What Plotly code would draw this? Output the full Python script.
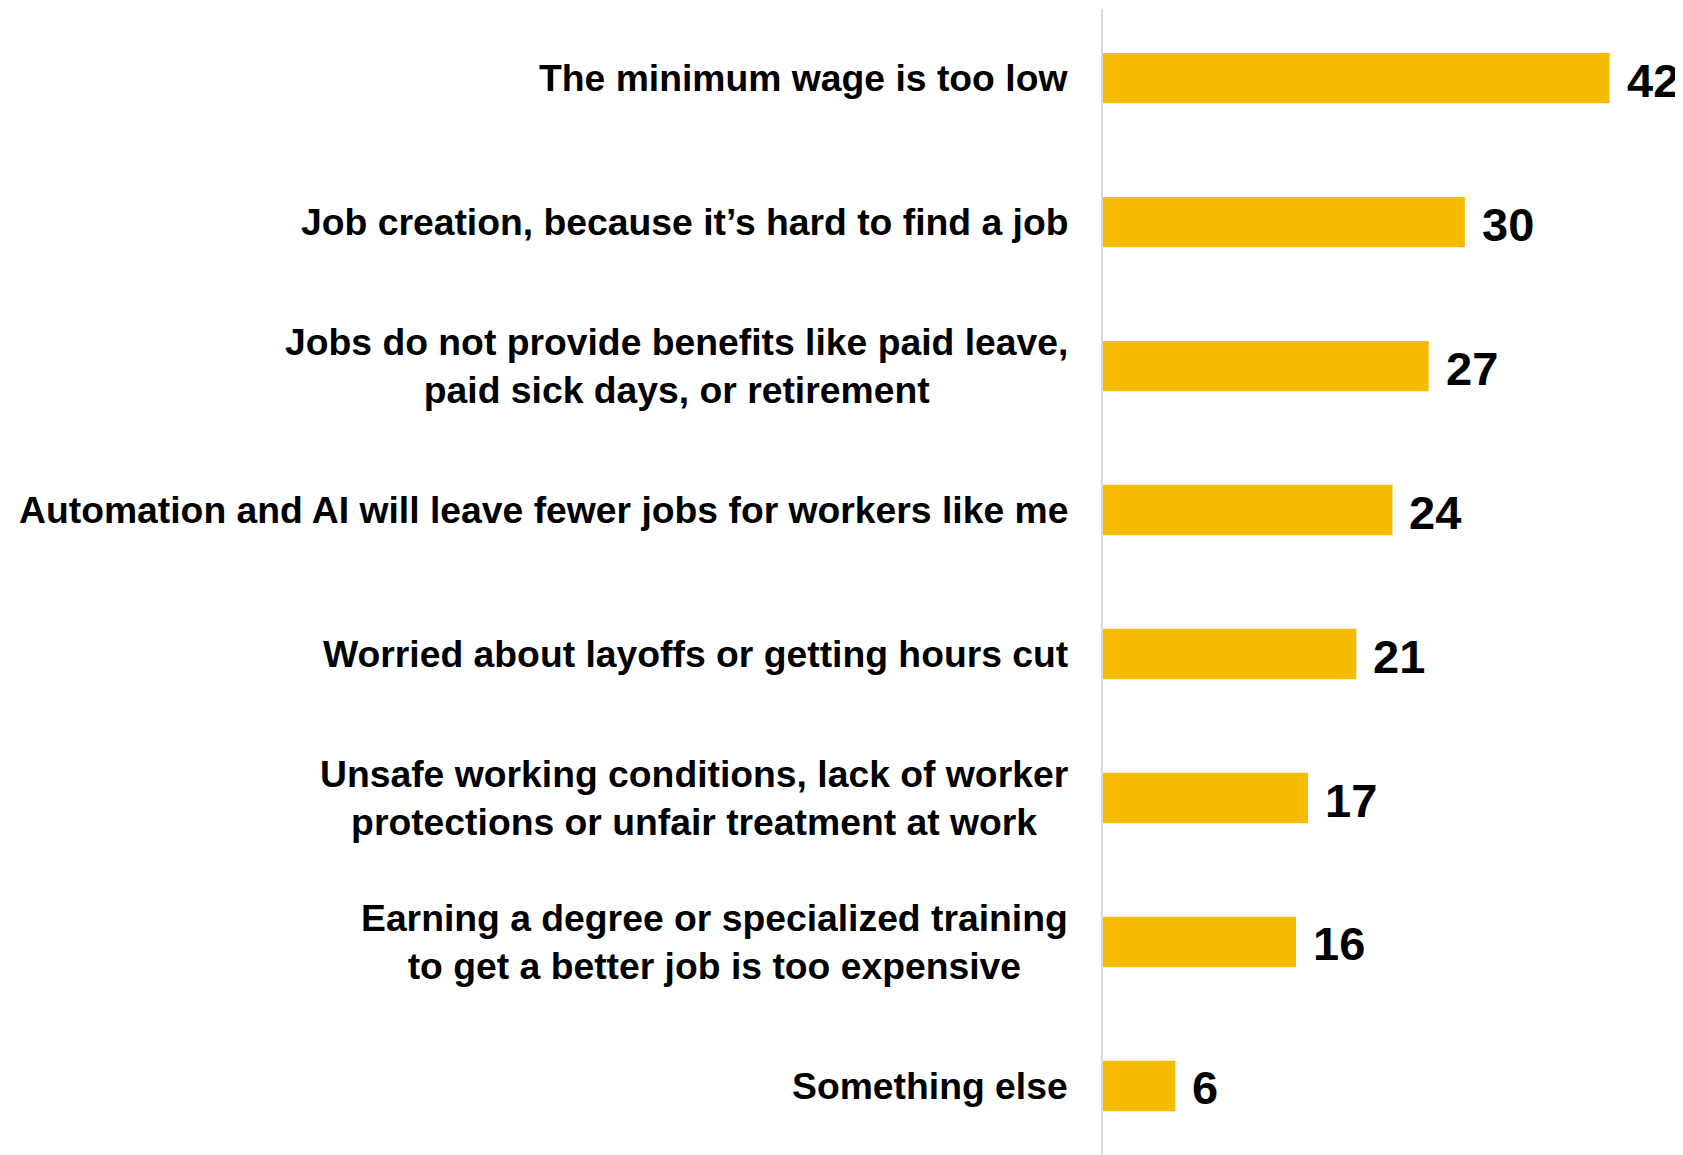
import plotly.graph_objects as go

categories = [
    "The minimum wage is too low",
    "Job creation, because it\u2019s hard to find a job",
    "Jobs do not provide benefits like paid leave,<br>paid sick days, or retirement",
    "Automation and AI will leave fewer jobs for workers like me",
    "Worried about layoffs or getting hours cut",
    "Unsafe working conditions, lack of worker<br>protections or unfair treatment at work",
    "Earning a degree or specialized training<br>to get a better job is too expensive",
    "Something else",
]
values = [42, 30, 27, 24, 21, 17, 16, 6]

FONT = "Liberation Sans, Arial, sans-serif"
BAR_COLOR = "#F5BC00"
LABEL_SIZE = 37.3
VALUE_SIZE = 47

fig = go.Figure()
fig.add_trace(go.Bar(
    x=values,
    y=categories,
    orientation="h",
    marker=dict(color=BAR_COLOR, line=dict(width=0)),
    width=0.35,
    hoverinfo="skip",
))

annotations = []
for c, v in zip(categories, values):
    annotations.append(dict(
        x=0, y=c, xref="x", yref="y", text=f"<b>{c}</b>",
        xanchor="right", yanchor="middle", align="center",
        xshift=-33, showarrow=False,
        font=dict(family=FONT, size=LABEL_SIZE, color="#000000"),
    ))
    annotations.append(dict(
        x=v, y=c, xref="x", yref="y", text=f"<b>{v}</b>",
        xanchor="left", yanchor="middle", xshift=15, yshift=-2, showarrow=False,
        font=dict(family=FONT, size=VALUE_SIZE, color="#000000"),
    ))

fig.update_layout(
    width=1683, height=1155,
    margin=dict(l=1095, r=3, t=0, b=0),
    paper_bgcolor="white", plot_bgcolor="white",
    showlegend=False,
    annotations=annotations,
    xaxis=dict(range=[0, 48.5], visible=False, fixedrange=True),
    yaxis=dict(
        categoryorder="array", categoryarray=categories,
        range=[7.535, -0.479], domain=[0, 0.999],
        showticklabels=False, ticks="",
        showgrid=False, zeroline=False,
        showline=True, linecolor="#d9d9d9", linewidth=2,
    ),
)

fig.write_html("out.html")
